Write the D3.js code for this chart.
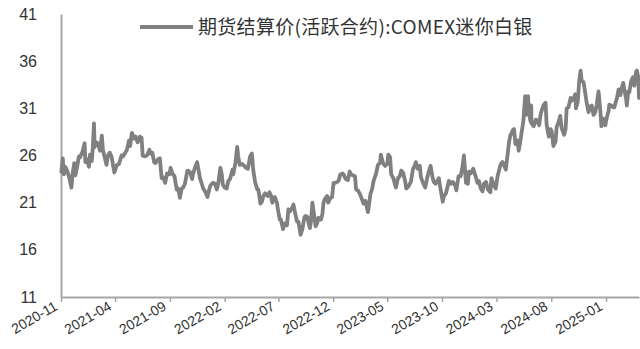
<!DOCTYPE html>
<html>
<head>
<meta charset="utf-8">
<script src="https://cdn.jsdelivr.net/npm/d3@7/dist/d3.min.js"></script>
<style>
  html, body { margin: 0; padding: 0; background: #fff; }
  svg { display: block; }
</style>
</head>
<body>
<svg id="chart" width="640" height="349"></svg>
<script>
// Series title
const seriesName = "期货结算价(活跃合约):COMEX迷你白银";

// Settlement dates and prices (USD/oz)
const dates = [
  "2020-11-02","2020-11-06","2020-11-09","2020-11-13","2020-11-18","2020-11-20","2020-11-25","2020-11-30",
  "2020-12-04","2020-12-08","2020-12-11","2020-12-16","2020-12-21","2020-12-24","2020-12-31",
  "2021-01-06","2021-01-08","2021-01-13","2021-01-18","2021-01-21","2021-01-26","2021-01-29",
  "2021-02-01","2021-02-03","2021-02-08","2021-02-12","2021-02-18","2021-02-23","2021-02-26",
  "2021-03-03","2021-03-08","2021-03-12","2021-03-17","2021-03-22","2021-03-30",
  "2021-04-06","2021-04-12","2021-04-19","2021-04-23","2021-04-28",
  "2021-05-04","2021-05-10","2021-05-13","2021-05-18","2021-05-24","2021-05-28",
  "2021-06-03","2021-06-09","2021-06-14","2021-06-17","2021-06-22","2021-06-29",
  "2021-07-06","2021-07-09","2021-07-14","2021-07-19","2021-07-23","2021-07-30",
  "2021-08-04","2021-08-09","2021-08-13","2021-08-19","2021-08-24","2021-08-31",
  "2021-09-03","2021-09-08","2021-09-14","2021-09-20","2021-09-24","2021-09-29",
  "2021-10-04","2021-10-08","2021-10-13","2021-10-20","2021-10-22","2021-10-28",
  "2021-11-02","2021-11-05","2021-11-10","2021-11-16","2021-11-19","2021-11-24","2021-11-30",
  "2021-12-03","2021-12-08","2021-12-15","2021-12-20","2021-12-23","2021-12-30",
  "2022-01-05","2022-01-10","2022-01-14","2022-01-20","2022-01-24","2022-01-27",
  "2022-02-01","2022-02-07","2022-02-11","2022-02-16","2022-02-23","2022-02-25",
  "2022-03-03","2022-03-08","2022-03-11","2022-03-15","2022-03-22","2022-03-28",
  "2022-04-01","2022-04-07","2022-04-13","2022-04-18","2022-04-22","2022-04-27",
  "2022-05-03","2022-05-06","2022-05-12","2022-05-16","2022-05-20","2022-05-25",
  "2022-06-01","2022-06-06","2022-06-10","2022-06-14","2022-06-21","2022-06-27","2022-06-30",
  "2022-07-05","2022-07-08","2022-07-14","2022-07-19","2022-07-25","2022-07-29",
  "2022-08-03","2022-08-09","2022-08-12","2022-08-17","2022-08-22","2022-08-26",
  "2022-09-01","2022-09-06","2022-09-12","2022-09-15","2022-09-20","2022-09-23","2022-09-27","2022-09-30",
  "2022-10-04","2022-10-07","2022-10-13","2022-10-17","2022-10-21","2022-10-25","2022-10-28",
  "2022-11-01","2022-11-04","2022-11-08","2022-11-14","2022-11-17","2022-11-23","2022-11-28",
  "2022-12-02","2022-12-07","2022-12-12","2022-12-16","2022-12-21","2022-12-27","2022-12-30",
  "2023-01-05","2023-01-11","2023-01-16","2023-01-20","2023-01-25","2023-01-31",
  "2023-02-03","2023-02-08","2023-02-14","2023-02-17","2023-02-24",
  "2023-03-01","2023-03-08","2023-03-10","2023-03-15","2023-03-20","2023-03-24","2023-03-31",
  "2023-04-05","2023-04-11","2023-04-13","2023-04-19","2023-04-25",
  "2023-05-01","2023-05-04","2023-05-09","2023-05-12","2023-05-18","2023-05-25","2023-05-31",
  "2023-06-05","2023-06-09","2023-06-14","2023-06-20","2023-06-23","2023-06-29",
  "2023-07-06","2023-07-12","2023-07-17","2023-07-20","2023-07-25","2023-07-31",
  "2023-08-03","2023-08-09","2023-08-15","2023-08-21","2023-08-25","2023-08-30",
  "2023-09-05","2023-09-08","2023-09-13","2023-09-19","2023-09-22","2023-09-27",
  "2023-10-03","2023-10-06","2023-10-12","2023-10-17","2023-10-20","2023-10-26","2023-10-31",
  "2023-11-07","2023-11-10","2023-11-16","2023-11-22","2023-11-28",
  "2023-12-01","2023-12-07","2023-12-12","2023-12-15","2023-12-20","2023-12-27",
  "2024-01-02","2024-01-08","2024-01-12","2024-01-17","2024-01-22","2024-01-26",
  "2024-02-01","2024-02-06","2024-02-13","2024-02-16","2024-02-22","2024-02-28",
  "2024-03-04","2024-03-08","2024-03-13","2024-03-18","2024-03-21","2024-03-27",
  "2024-04-02","2024-04-05","2024-04-09","2024-04-12","2024-04-16","2024-04-19","2024-04-23","2024-04-29",
  "2024-05-02","2024-05-07","2024-05-10","2024-05-15","2024-05-20","2024-05-23","2024-05-28","2024-05-31",
  "2024-06-04","2024-06-06","2024-06-07","2024-06-13","2024-06-19","2024-06-24","2024-06-28",
  "2024-07-03","2024-07-10","2024-07-16","2024-07-19","2024-07-25","2024-07-30",
  "2024-08-02","2024-08-07","2024-08-13","2024-08-16","2024-08-21","2024-08-26","2024-08-30",
  "2024-09-06","2024-09-10","2024-09-13","2024-09-18","2024-09-24","2024-09-27",
  "2024-10-02","2024-10-07","2024-10-09","2024-10-14","2024-10-18","2024-10-22","2024-10-25","2024-10-30",
  "2024-11-04","2024-11-07","2024-11-13","2024-11-18","2024-11-22","2024-11-27",
  "2024-12-02","2024-12-06","2024-12-11","2024-12-16","2024-12-19","2024-12-24","2024-12-30",
  "2025-01-03","2025-01-08","2025-01-10","2025-01-15","2025-01-21","2025-01-24","2025-01-29","2025-01-31",
  "2025-02-05","2025-02-10","2025-02-13","2025-02-18","2025-02-21","2025-02-26","2025-02-28",
  "2025-03-04","2025-03-07","2025-03-12","2025-03-17","2025-03-21","2025-03-26","2025-03-28",
  "2025-04-01","2025-04-03"
];

const prices = [
  24.3,25.7,24.0,24.8,24.4,24.2,23.5,22.6,
  24.2,25.2,23.9,24.8,25.9,25.8,26.4,
  27.3,25.3,25.6,24.8,26.1,25.4,26.9,
  29.4,26.9,27.4,27.3,26.5,28.1,26.6,
  25.8,25.0,26.0,26.3,25.9,24.2,
  25.0,25.1,26.0,25.9,26.2,
  26.6,27.6,27.0,28.4,27.8,28.0,
  27.4,28.0,27.9,26.0,25.9,26.0,
  26.6,26.2,26.3,25.3,25.2,25.6,
  25.7,23.6,23.7,23.1,24.1,24.0,
  24.7,24.1,23.8,22.4,22.5,21.5,
  22.5,22.6,23.0,24.4,24.4,24.2,
  23.5,24.1,24.7,25.3,24.7,23.6,22.9,
  22.5,22.2,21.6,22.4,22.8,23.1,
  23.0,22.4,23.0,24.7,24.0,22.9,
  22.6,22.5,23.3,23.5,24.5,24.0,
  25.2,26.9,25.9,25.0,25.1,24.9,
  24.7,24.6,25.9,26.2,24.4,23.2,
  22.4,22.4,20.9,21.1,21.7,22.0,
  21.7,22.1,21.8,21.0,21.6,21.0,20.2,
  19.2,19.2,18.2,18.8,18.6,20.3,
  20.1,20.5,20.8,19.9,19.0,19.0,
  17.6,18.2,19.5,19.6,19.5,18.9,18.3,19.0,
  21.0,20.2,18.5,18.8,19.4,19.2,19.2,
  19.8,21.0,21.4,21.7,21.0,21.5,21.6,
  23.1,23.1,23.2,23.3,24.0,24.1,24.0,
  23.5,23.4,24.3,24.0,23.9,23.8,
  22.4,22.3,21.9,21.6,20.9,
  21.2,20.0,20.5,21.9,22.5,23.3,24.1,
  25.0,25.2,26.1,25.2,24.9,
  25.1,26.1,25.8,24.0,23.6,22.6,23.6,
  23.8,24.4,24.2,23.3,22.5,22.7,
  23.2,24.6,24.9,25.3,24.6,24.9,
  23.7,23.1,22.6,23.7,24.3,24.9,
  23.6,23.2,23.0,23.4,23.6,22.4,
  21.1,21.7,22.0,22.8,23.3,23.0,23.2,
  22.8,22.3,23.8,23.8,25.0,
  26.0,23.1,23.0,24.3,24.1,24.6,
  23.9,23.1,23.3,22.5,22.2,23.0,
  23.2,22.4,22.1,23.6,22.9,22.5,
  23.8,24.4,25.1,25.3,25.1,24.5,
  26.4,27.4,28.2,28.3,28.7,28.8,27.2,27.6,
  26.5,27.6,28.4,29.6,32.3,30.3,32.3,30.5,
  29.6,31.3,29.4,29.1,29.8,29.7,29.2,
  30.5,31.3,31.6,29.3,28.0,28.8,
  28.6,27.0,27.5,29.0,29.5,30.2,28.9,
  28.2,28.8,31.0,31.1,32.1,31.8,
  32.0,32.5,31.0,31.7,33.9,35.0,33.9,33.8,
  32.6,31.8,30.6,31.2,31.3,30.3,
  30.6,31.4,32.8,30.8,29.1,29.9,29.2,
  30.0,30.7,31.4,31.3,31.1,31.1,31.8,32.0,
  33.0,32.4,33.1,33.7,33.0,32.0,31.3,
  32.8,32.7,33.9,34.3,33.4,34.9,35.0,
  34.3,32.1
];

// Axis ticks
const yTicks = [11, 16, 21, 26, 31, 36, 41];
const xTickLabels = ["2020-11","2021-04","2021-09","2022-02","2022-07","2022-12",
                     "2023-05","2023-10","2024-03","2024-08","2025-01"];

const parseDay = d3.timeParse("%Y-%m-%d");
const parseMonth = d3.timeParse("%Y-%m");
const series = dates.map((d, i) => ({ date: parseDay(d), value: prices[i] }));

const svg = d3.select("#chart");
const plot = { left: 61, right: 639, top: 14, bottom: 297 };
const lineColor = "#808080";
const axisColor = "#a6a6a6";
const textColor = "#333333";

const x = d3.scaleTime()
  .domain([parseDay("2020-11-01"), parseDay("2025-04-03")])
  .range([plot.left, plot.right]);

const y = d3.scaleLinear()
  .domain([11, 41])
  .range([plot.bottom, plot.top]);

// Y axis: line only, labels on the left
const yAxis = svg.append("g")
  .attr("transform", `translate(${plot.left},0)`)
  .call(d3.axisLeft(y).tickValues(yTicks).tickSize(0).tickPadding(24).tickFormat(d3.format("d")));
yAxis.select(".domain").attr("stroke", axisColor).attr("stroke-width", 2);
yAxis.selectAll("text")
  .attr("fill", textColor)
  .style("font-family", "'Liberation Sans', Arial, sans-serif")
  .style("font-size", "16px");

// X axis with downward ticks and slanted labels
const xAxis = svg.append("g")
  .attr("transform", `translate(0,${plot.bottom})`)
  .call(d3.axisBottom(x)
    .tickValues(xTickLabels.map(parseMonth))
    .tickSize(5)
    .tickSizeOuter(0)
    .tickFormat(d3.timeFormat("%Y-%m")));
xAxis.select(".domain").attr("stroke", axisColor).attr("stroke-width", 2);
xAxis.selectAll(".tick line").attr("stroke", axisColor).attr("stroke-width", 1.5);
xAxis.selectAll("text")
  .attr("fill", textColor)
  .style("font-family", "'Liberation Sans', Arial, sans-serif")
  .style("font-size", "14px")
  .attr("text-anchor", "end")
  .attr("dy", null)
  .attr("y", 0)
  .attr("transform", "translate(-3,12) rotate(-30)");

// Price line
const line = d3.line()
  .x(d => x(d.date))
  .y(d => y(d.value));

svg.append("path")
  .datum(series)
  .attr("fill", "none")
  .attr("stroke", lineColor)
  .attr("stroke-width", 3.8)
  .attr("stroke-linejoin", "round")
  .attr("stroke-linecap", "round")
  .attr("d", line);

// Legend
const legend = svg.append("g").attr("transform", "translate(140,27)");
legend.append("line")
  .attr("x1", 0).attr("x2", 53).attr("y1", 0).attr("y2", 0)
  .attr("stroke", lineColor).attr("stroke-width", 4);
legend.append("text")
  .attr("x", 58).attr("y", 0).attr("dy", "0.36em")
  .attr("fill", textColor)
  .style("font-family", "'Noto Sans CJK SC', sans-serif")
  .style("font-size", "19px")
  .style("letter-spacing", "0.3px")
  .text(seriesName);
</script>
</body>
</html>
